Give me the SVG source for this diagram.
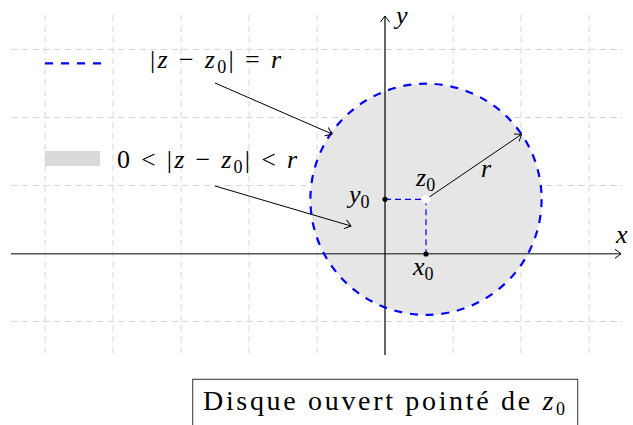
<svg xmlns="http://www.w3.org/2000/svg" width="633" height="425" viewBox="0 0 633 425">
<style>
  .grid line { stroke:#d6d6d6; stroke-width:1; stroke-dasharray:6.5 4.2; }
  .t { font-family:'Liberation Serif','DejaVu Serif',serif; font-size:26px; fill:#000; }
  .i { font-style:italic; }
  .sub { font-size:18px; }
  .arrow { stroke:#000; stroke-width:1; fill:none; marker-end:url(#head); }
  .blue { stroke:#0000ff; fill:none; }
</style>
<defs>
  <marker id="head" markerUnits="userSpaceOnUse" markerWidth="12" markerHeight="12" viewBox="-8 -6 10 12" refX="0" refY="0" orient="auto">
    <path d="M -6 -4.5 Q -1.5 -1.2 0 0 Q -1.5 1.2 -6 4.5" stroke="#000" stroke-width="1" fill="none"/>
  </marker>
</defs>
<rect width="633" height="425" fill="#fff"/>
<g id="grid" class="grid">
  <line x1="45" y1="15" x2="45" y2="355"/>
  <line x1="113" y1="15" x2="113" y2="355"/>
  <line x1="181" y1="15" x2="181" y2="355"/>
  <line x1="249" y1="15" x2="249" y2="355"/>
  <line x1="317" y1="15" x2="317" y2="355"/>
  <line x1="453" y1="15" x2="453" y2="355"/>
  <line x1="521" y1="15" x2="521" y2="355"/>
  <line x1="589" y1="15" x2="589" y2="355"/>
  <line x1="11" y1="49.5" x2="622" y2="49.5"/>
  <line x1="11" y1="117.5" x2="622" y2="117.5"/>
  <line x1="11" y1="185.5" x2="622" y2="185.5"/>
  <line x1="11" y1="321.5" x2="622" y2="321.5"/>
</g>
<g id="disk">
  <circle cx="426" cy="199.3" r="115.6" fill="#e6e6e6"/>
</g>
<g id="axes">
  <line x1="11" y1="253.8" x2="621" y2="253.8" stroke="#555" stroke-width="1.4" marker-end="url(#head)"/>
  <line x1="385" y1="355" x2="385" y2="16" stroke="#000" stroke-width="1.2" marker-end="url(#head)"/>
  <text class="t i" x="616" y="243">x</text>
  <text class="t i" x="396" y="24">y</text>
</g>
<g id="circle-border">
  <circle cx="426" cy="199.3" r="115.6" class="blue" stroke-width="2.2" stroke-dasharray="8 7.8"/>
</g>
<g id="projections">
  <line x1="385" y1="199.3" x2="426" y2="199.3" class="blue" stroke-width="1.2" stroke-dasharray="6 4"/>
  <line x1="426" y1="199.3" x2="426" y2="254" class="blue" stroke-width="1.2" stroke-dasharray="6 4"/>
  <circle cx="385" cy="199.3" r="2.6" fill="#000"/>
  <circle cx="426" cy="254" r="2.6" fill="#000"/>
</g>
<g id="connectors">
  <line class="arrow" x1="215" y1="83" x2="332" y2="134"/>
  <line class="arrow" x1="215" y1="186" x2="351" y2="226"/>
  <line class="arrow" x1="426" y1="199.3" x2="521.5" y2="134.3"/>
</g>
<g id="center">
  <circle cx="426" cy="199.3" r="4.2" fill="#fff"/>
</g>
<g id="labels">
  <text class="t" x="416" y="186"><tspan class="i">z</tspan><tspan class="sub" dy="5">0</tspan></text>
  <text class="t" x="349" y="203"><tspan class="i">y</tspan><tspan class="sub" dy="5">0</tspan></text>
  <text class="t" x="413" y="275"><tspan class="i">x</tspan><tspan class="sub" dy="5">0</tspan></text>
  <text class="t i" x="481" y="177">r</text>
</g>
<g id="legend-circle">
  <line x1="45" y1="63.3" x2="101" y2="63.3" class="blue" stroke-width="2.3" stroke-dasharray="8 8"/>
  <text class="t" x="150" y="68" textLength="131" lengthAdjust="spacing">|<tspan class="i">z</tspan> − <tspan class="i">z</tspan><tspan class="sub" dy="5">0</tspan><tspan dy="-5">| = </tspan><tspan class="i">r</tspan></text>
</g>
<g id="legend-disk">
  <rect x="45" y="151" width="55" height="15" fill="#d9d9d9"/>
  <text class="t" x="117" y="168" textLength="180" lengthAdjust="spacing">0 &lt; |<tspan class="i">z</tspan> − <tspan class="i">z</tspan><tspan class="sub" dy="5">0</tspan><tspan dy="-5">| &lt; </tspan><tspan class="i">r</tspan></text>
</g>
<g id="title">
  <rect x="192.7" y="379.3" width="385" height="60" fill="#fff" stroke="#444" stroke-width="1.1"/>
  <text class="t" x="203" y="409.5" style="font-size:28px" textLength="362" lengthAdjust="spacing">Disque ouvert pointé de <tspan class="i">z</tspan><tspan class="sub" dy="5">0</tspan></text>
</g>
</svg>
